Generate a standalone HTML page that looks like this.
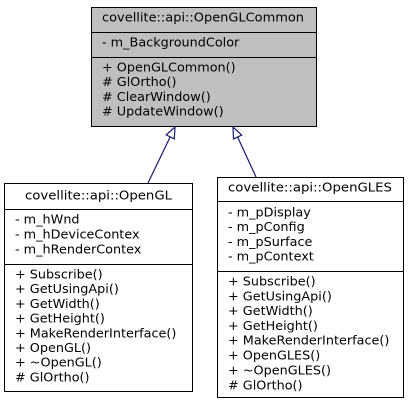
<!DOCTYPE html>
<html><head><meta charset="utf-8"><style>
html,body{margin:0;padding:0;background:#fff;}
svg{display:block;}
text{font-family:"DejaVu Sans","Liberation Sans",sans-serif;font-size:12.8px;fill:#000;dominant-baseline:central;}
</style></head><body>
<svg width="409" height="405" viewBox="0 0 409 405" xmlns="http://www.w3.org/2000/svg">
<rect x="91.5" y="7.5" width="225" height="119" fill="#bfbfbf" stroke="#000"/>
<line x1="91.5" y1="32.5" x2="316.5" y2="32.5" stroke="#000"/>
<line x1="91.5" y1="57.5" x2="316.5" y2="57.5" stroke="#000"/>
<text x="102" y="18" textLength="202" lengthAdjust="spacingAndGlyphs">covellite::api::OpenGLCommon</text>
<text x="102" y="43">- m_BackgroundColor</text>
<text x="102" y="68">+ OpenGLCommon()</text>
<text x="102" y="82.7"># GlOrtho()</text>
<text x="102" y="97.4"># ClearWindow()</text>
<text x="102" y="112"># UpdateWindow()</text>

<rect x="4.5" y="183.5" width="188" height="208" fill="#fff" stroke="#000"/>
<line x1="4.5" y1="209.5" x2="192.5" y2="209.5" stroke="#000"/>
<line x1="4.5" y1="264.5" x2="192.5" y2="264.5" stroke="#000"/>
<text x="25" y="196" textLength="147" lengthAdjust="spacingAndGlyphs">covellite::api::OpenGL</text>
<text x="15" y="220">- m_hWnd</text>
<text x="15" y="235">- m_hDeviceContex</text>
<text x="15" y="250">- m_hRenderContex</text>
<text x="15" y="275">+ Subscribe()</text>
<text x="15" y="289.7">+ GetUsingApi()</text>
<text x="15" y="304.4">+ GetWidth()</text>
<text x="15" y="319.1">+ GetHeight()</text>
<text x="15" y="333.8">+ MakeRenderInterface()</text>
<text x="15" y="348.5">+ OpenGL()</text>
<text x="15" y="363.2">+ ~OpenGL()</text>
<text x="15" y="378"># GlOrtho()</text>

<rect x="217.5" y="177.5" width="186" height="220" fill="#fff" stroke="#000"/>
<line x1="217.5" y1="201.5" x2="403.5" y2="201.5" stroke="#000"/>
<line x1="217.5" y1="271.5" x2="403.5" y2="271.5" stroke="#000"/>
<text x="228" y="188" textLength="164" lengthAdjust="spacingAndGlyphs">covellite::api::OpenGLES</text>
<text x="228" y="213">- m_pDisplay</text>
<text x="228" y="227.7">- m_pConfig</text>
<text x="228" y="242.4">- m_pSurface</text>
<text x="228" y="257">- m_pContext</text>
<text x="228" y="282">+ Subscribe()</text>
<text x="228" y="296.8">+ GetUsingApi()</text>
<text x="228" y="311.6">+ GetWidth()</text>
<text x="228" y="326.4">+ GetHeight()</text>
<text x="228" y="341.2">+ MakeRenderInterface()</text>
<text x="228" y="356">+ OpenGLES()</text>
<text x="228" y="370.8">+ ~OpenGLES()</text>
<text x="228" y="386"># GlOrtho()</text>

<line x1="148" y1="183" x2="170.2" y2="136.9" stroke="#191970" stroke-width="1.2"/>
<polygon points="175,127 174.3,138.9 166.2,134.9" fill="#fff" stroke="#191970" stroke-width="1.2"/>
<line x1="256" y1="177" x2="237.6" y2="137" stroke="#191970" stroke-width="1.2"/>
<polygon points="233,127 241.7,135.1 233.5,138.9" fill="#fff" stroke="#191970" stroke-width="1.2"/>
</svg>
</body></html>
